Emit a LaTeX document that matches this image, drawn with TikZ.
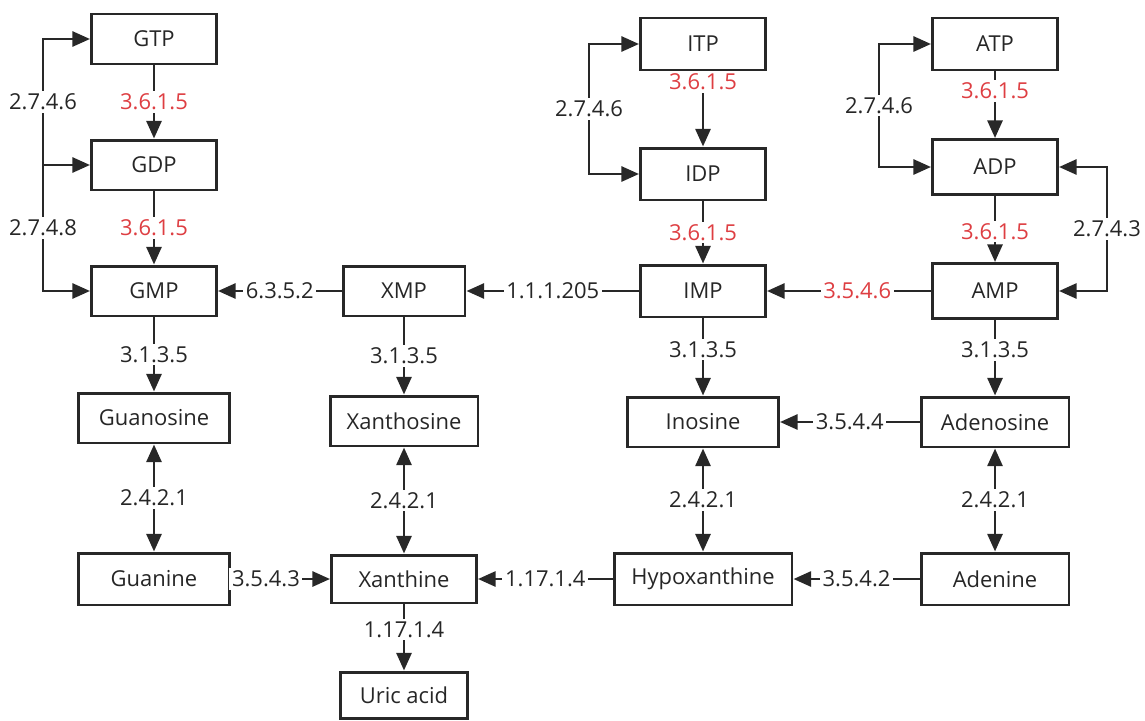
\documentclass[tikz,border=0pt]{standalone}
\usepackage{fontspec}
\setmainfont{Open Sans}
\usepackage{xcolor}
\usetikzlibrary{arrows.meta}
\definecolor{ecred}{RGB}{222,62,66}
\definecolor{linegray}{RGB}{40,40,40}

\begin{document}
\begin{tikzpicture}[x=0.02cm,y=-0.02cm,>={Triangle[length=10pt,width=8.5pt]},
  box/.style={draw=linegray,line width=1.7pt,minimum height=1cm,minimum width=2.5cm,
    inner sep=0pt,font=\fontsize{12.5}{15}\selectfont,text=black!85},
  ec/.style={fill=white,inner sep=1.5pt,font=\fontsize{12.5}{15}\selectfont,text=black!85},
  ecr/.style={ec,text=ecred},
  lnk/.style={draw=linegray,line width=1.6pt},
  arr/.style={lnk,->},
  both/.style={lnk,<->}]
  \useasboundingbox (0,0) rectangle (1145,720);
  % guanine branch
  \node[box] (GTP) at (154,39) {GTP};
  \node[box] (GDP) at (154,165) {GDP};
  \node[box] (GMP) at (154,291) {GMP};
  \node[box,minimum width=3.04cm] (Guo) at (154,418) {Guanosine};
  \node[box,minimum width=3.04cm,minimum height=1.04cm] (Gua) at (154,579) {Guanine};
  % xanthine branch
  \node[box,minimum width=2.44cm] (XMP) at (404,291) {XMP};
  \node[box,minimum width=2.96cm] (Xao) at (404,421) {Xanthosine};
  \node[box,minimum width=2.9cm,minimum height=0.96cm] (Xan) at (404,579) {Xanthine};
  \node[box,minimum width=2.54cm,minimum height=0.92cm] (Uric) at (404,695) {Uric acid};
  % inosine branch
  \node[box,minimum height=1.04cm] (ITP) at (703,44) {ITP};
  \node[box,minimum height=1.04cm] (IDP) at (703,174) {IDP};
  \node[box,minimum height=1.04cm] (IMP) at (703,291) {IMP};
  \node[box,minimum width=3.02cm] (Ino) at (703,422) {Inosine};
  \node[box,minimum width=3.56cm,minimum height=1.04cm] (Hyp) at (703,579) {Hypoxanthine};
  % adenine branch
  \node[box,minimum height=1.04cm] (ATP) at (995,44) {ATP};
  \node[box,minimum height=1.1cm] (ADP) at (995,167) {ADP};
  \node[box,minimum height=1.1cm] (AMP) at (995,291) {AMP};
  \node[box,minimum width=2.96cm] (Ado) at (995,422) {Adenosine};
  \node[box,minimum width=2.96cm,minimum height=1.04cm] (Ade) at (995,579) {Adenine};

  \draw[arr] (GTP) -- node[ecr]{3.6.1.5} (GDP);
  \draw[arr] (GDP) -- node[ecr]{3.6.1.5} (GMP);
  \coordinate (gL) at (43,165);
  \draw[arr] (gL) |- node[pos=.25,ec]{2.7.4.6} (GTP);
  \draw[arr] (gL) -- (GDP);
  \draw[arr] (gL) |- node[pos=.25,ec]{2.7.4.8} (GMP);

  \draw[arr] (ITP) -- node[ecr,pos=.14]{3.6.1.5} (IDP);
  \draw[both] (ITP.west) -- ++(-50,0) |- node[pos=.25,ec]{2.7.4.6} (IDP.west);
  \draw[arr] (IDP) -- node[ecr]{3.6.1.5} (IMP);

  \draw[arr] (ATP) -- node[ecr,pos=.29]{3.6.1.5} (ADP);
  \draw[both] (ATP.west) -- ++(-52,0) |- node[pos=.25,ec]{2.7.4.6} (ADP.west);
  \draw[arr] (ADP) -- node[ecr,pos=.54]{3.6.1.5} (AMP);
  \draw[both] (ADP.east) -- ++(48,0) |- node[pos=.25,ec]{2.7.4.3} (AMP.east);

  \draw[arr] (AMP) -- node[ecr,pos=.45]{3.5.4.6} (IMP);
  \draw[arr] (IMP) -- node[ec]{1.1.1.205} (XMP);
  \draw[arr] (XMP) -- node[ec]{6.3.5.2} (GMP);

  \draw[arr] (GMP) -- node[ec]{3.1.3.5} (Guo);
  \draw[arr] (XMP) -- node[ec]{3.1.3.5} (Xao);
  \draw[arr] (IMP) -- node[ec,pos=.4]{3.1.3.5} (Ino);
  \draw[arr] (AMP) -- node[ec,pos=.4]{3.1.3.5} (Ado);
  \draw[arr] (Ado) -- node[ec]{3.5.4.4} (Ino);

  \draw[both] (Guo) -- node[ec]{2.4.2.1} (Gua);
  \draw[both] (Xao) -- node[ec]{2.4.2.1} (Xan);
  \draw[both] (Ino) -- node[ec]{2.4.2.1} (Hyp);
  \draw[both] (Ado) -- node[ec]{2.4.2.1} (Ade);

  \draw[arr] (Gua) -- node[ec,pos=.35]{3.5.4.3} (Xan);
  \draw[arr] (Hyp) -- node[ec]{1.17.1.4} (Xan);
  \draw[arr] (Ade) -- node[ec]{3.5.4.2} (Hyp);
  \draw[arr] (Xan) -- node[ec,pos=.38]{1.17.1.4} (Uric);
\end{tikzpicture}
\end{document}
